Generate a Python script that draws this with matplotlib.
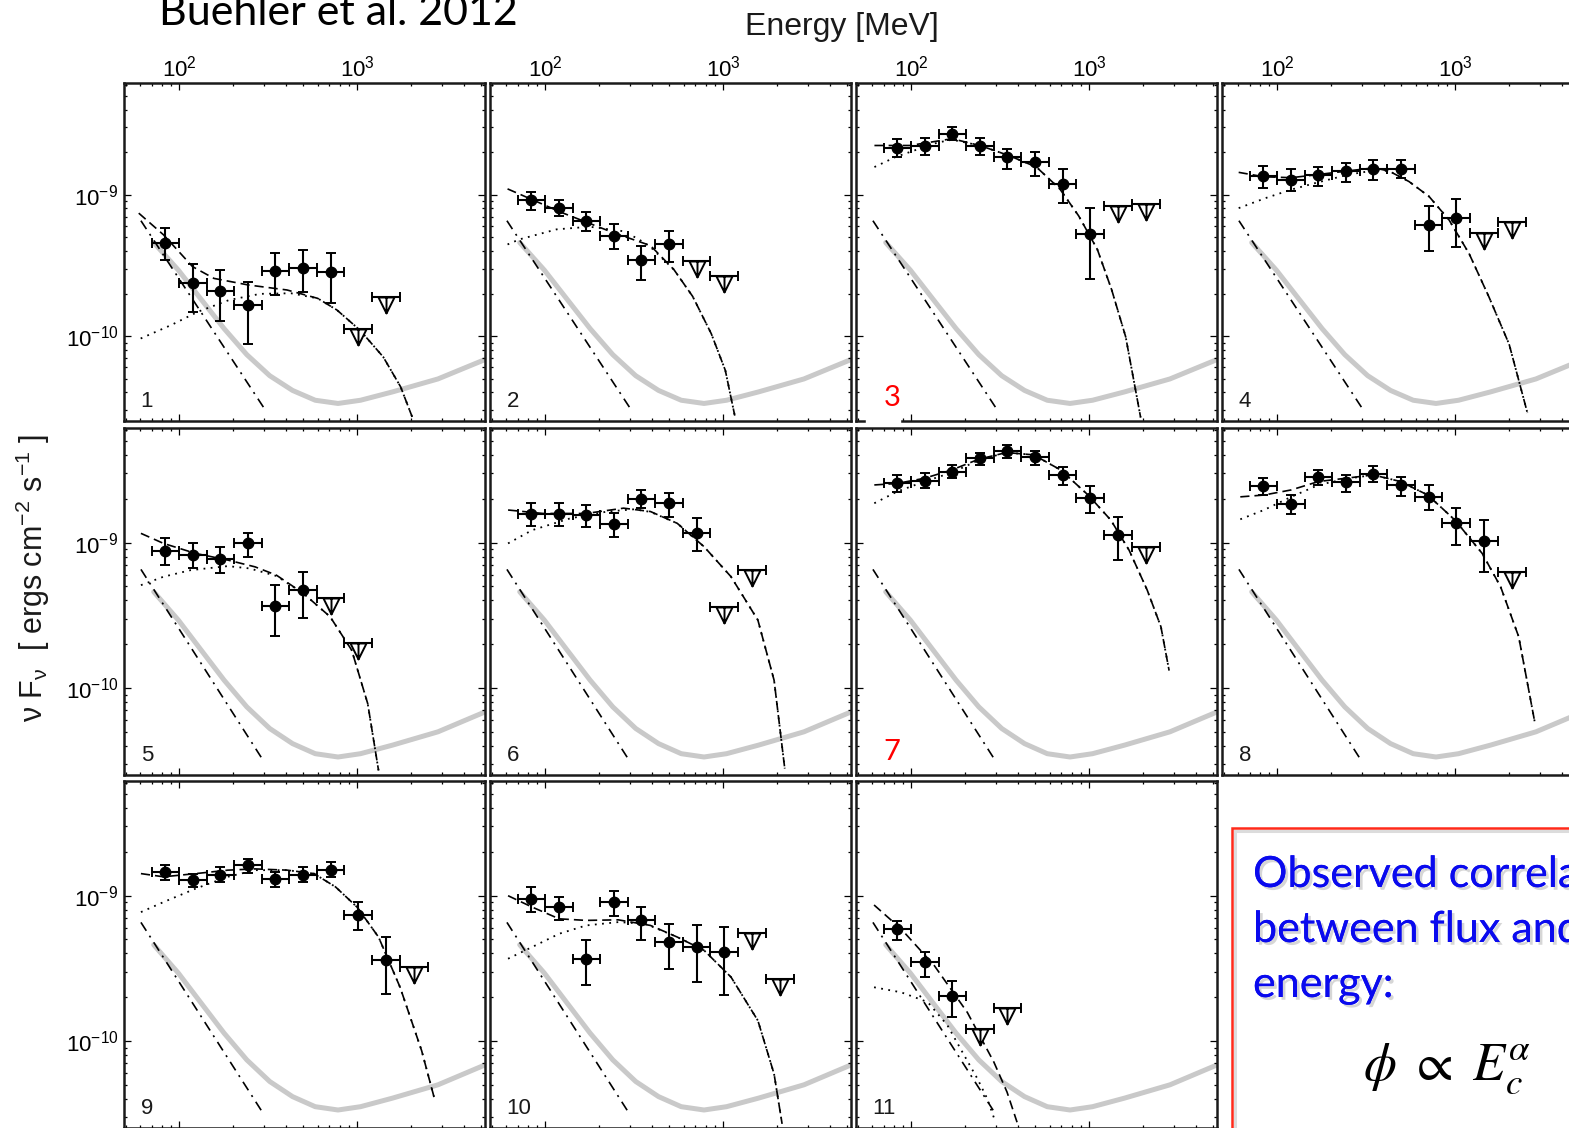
# Time-resolved LAT spectra (11 intervals), nuFnu vs energy, with model components

import numpy as np
import matplotlib
matplotlib.use("Agg")
import matplotlib.pyplot as plt
import matplotlib.patheffects as pe
from matplotlib.path import Path
from matplotlib.patches import Rectangle
from matplotlib.ticker import NullFormatter

plt.rcParams["font.family"] = ["Liberation Sans", "DejaVu Sans"]
plt.rcParams["mathtext.fontset"] = "custom"
plt.rcParams["mathtext.rm"] = "Liberation Sans"
plt.rcParams["mathtext.it"] = "Liberation Sans:italic"
plt.rcParams["mathtext.default"] = "regular"
plt.rcParams["axes.unicode_minus"] = False

W, H = 1569, 1128

# energy bins [MeV], shared by all intervals
e_edges = np.array([70, 100, 143, 204, 291, 414, 593, 850, 1220, 1755, 2510])

# nuFnu in 1e-10 erg cm^-2 s^-1, one list per interval (bins from the first one on)
flux = [
    [4.59, 2.37, 2.10, 1.66, 2.90, 3.05, 2.86],
    [9.2, 8.1, 6.5, 5.1, 3.44, 4.45],
    [21.4, 22.0, 27.0, 22.1, 18.4, 17.0, 11.9, 5.25],
    [13.5, 12.8, 13.7, 14.7, 15.2, 15.2, 6.1, 6.9],
    [8.77, 8.2, 7.67, 9.9, 3.68, 4.72],
    [15.8, 15.8, 15.5, 13.5, 19.9, 18.7, 11.7],
    [25.6, 26.8, 30.9, 38.2, 42.5, 38.8, 29.3, 20.2, 11.3],
    [24.6, 18.5, 28.2, 26.0, 29.8, 25.0, 20.8, 13.6, 10.3],
    [14.6, 12.8, 14.0, 16.2, 13.1, 14.0, 15.1, 7.32, 3.62],
    [9.54, 8.35, 3.68, 9.04, 6.76, 4.79, 4.42, 4.08],
    [5.9, 3.48, 2.03],
]
flux_hi = [
    [5.8, 3.22, 2.94, 2.43, 3.85, 4.07, 3.90],
    [10.5, 9.2, 7.5, 6.2, 4.37, 5.5],
    [24.7, 25.2, 30.2, 25.2, 21.1, 20.2, 15.1, 8.0],
    [15.9, 15.1, 15.7, 16.8, 17.7, 17.7, 8.3, 9.4],
    [10.7, 9.9, 9.4, 11.6, 5.1, 6.3],
    [18.7, 18.7, 18.2, 15.9, 22.9, 21.9, 14.7],
    [29.3, 30.0, 34.4, 41.8, 47.2, 43.1, 33.4, 24.6, 15.0],
    [27.8, 21.3, 31.7, 29.3, 33.8, 28.5, 25.0, 17.3, 14.3],
    [16.2, 14.2, 15.8, 18.0, 14.6, 15.8, 17.1, 9.0, 5.19],
    [11.4, 9.8, 4.92, 10.8, 8.35, 6.4, 6.24, 6.13],
    [6.73, 4.07, 2.60],
]
flux_lo = [
    [3.46, 1.49, 1.27, 0.88, 1.95, 2.06, 1.71],
    [7.8, 7.1, 5.5, 4.1, 2.5, 3.33],
    [18.5, 19.0, 24.3, 19.0, 15.2, 13.6, 8.7, 2.53],
    [11.2, 10.6, 11.5, 12.4, 12.8, 13.1, 4.0, 4.3],
    [7.0, 6.65, 6.2, 8.0, 2.27, 3.05],
    [13.0, 13.1, 12.9, 11.0, 17.3, 15.1, 8.8],
    [22.5, 23.7, 27.8, 34.4, 38.2, 34.4, 25.0, 16.1, 7.6],
    [21.3, 15.8, 25.0, 22.5, 26.0, 21.0, 16.8, 9.6, 6.3],
    [12.8, 11.5, 12.4, 14.3, 11.5, 12.4, 13.5, 5.77, 2.11],
    [7.7, 6.76, 2.41, 7.3, 4.98, 3.14, 2.54, 2.06],
    [4.98, 2.74, 1.46],
]
# upper limits in the bins right after the last detection
upper = [
    [1.13, 1.90],
    [3.39, 2.65],
    [8.35, 8.58],
    [5.33, 6.45],
    [4.13, 2.04],
    [3.62, 6.47],
    [9.4],
    [6.31],
    [3.22],
    [5.56, 2.68],
    [1.21, 1.68],
]

# total model (dashed)
model_e = [
    [59.3, 81.8, 119, 157, 245, 404, 601, 771, 1040, 1403, 1758, 2042],
    [61.5, 124, 241, 391, 530, 675, 859, 1030, 1164],
    [62.2, 98.2, 170, 243, 352, 506, 685, 875, 1114, 1340, 1607, 1950],
    [60.8, 84.1, 120, 171, 245, 352, 426, 551, 714, 925, 1199, 1552, 2014, 2553],
    [61.0, 81.7, 124, 188, 267, 352, 499, 706, 933, 1148, 1321],
    [61.9, 97.3, 170, 276, 391, 553, 783, 1109, 1570, 1936, 2223],
    [62.1, 83.4, 119, 169, 240, 343, 488, 693, 989, 1327, 1679, 2123, 2535, 2818],
    [62.1, 84.3, 120, 171, 243, 347, 493, 703, 1000, 1422, 1803, 2280, 2805],
    [61.0, 81.7, 124, 188, 267, 405, 573, 757, 1000, 1321, 1746, 2307, 2742],
    [61.9, 84.5, 120, 170, 258, 391, 553, 783, 1109, 1570, 1936, 2148],
    [61.9, 87.9, 135, 207, 292, 346, 394],
]
model_f = [
    [7.41, 5.20, 3.10, 2.56, 2.30, 2.12, 1.85, 1.53, 1.10, 0.713, 0.438, 0.268],
    [11.0, 7.48, 5.40, 4.37, 2.95, 1.91, 1.04, 0.573, 0.274],
    [22.3, 22.3, 24.9, 22.3, 19.0, 15.7, 11.0, 7.08, 4.10, 2.13, 0.989, 0.266],
    [14.4, 13.4, 13.2, 13.9, 14.7, 15.5, 14.7, 12.4, 9.73, 6.64, 3.84, 1.89, 0.877, 0.286],
    [11.6, 9.89, 8.43, 7.59, 6.82, 5.98, 4.48, 3.09, 1.82, 0.780, 0.270],
    [16.8, 15.9, 15.9, 17.3, 16.4, 13.6, 9.38, 5.83, 2.93, 1.13, 0.278],
    [25.0, 25.6, 27.8, 31.7, 37.6, 41.8, 40.3, 31.7, 21.3, 14.3, 8.89, 4.72, 2.64, 1.32],
    [20.7, 21.3, 23.1, 26.4, 27.8, 29.3, 26.4, 21.3, 14.3, 8.43, 4.98, 2.25, 0.583],
    [14.2, 13.5, 14.2, 15.0, 15.3, 15.0, 14.2, 11.5, 8.35, 5.19, 2.34, 0.857, 0.388],
    [10.0, 8.35, 6.93, 6.76, 6.82, 6.24, 5.19, 4.20, 2.75, 1.38, 0.592, 0.268],
    [8.63, 5.90, 3.30, 1.57, 0.713, 0.444, 0.275],
]

# cutoff component (dotted)
cut_e = [
    [60.8, 90.6, 128, 191, 285, 425, 601, 771, 1040, 1403, 1758, 2042],
    [61.5, 71.6, 116, 178, 272, 331, 391, 530, 675, 859, 1030, 1164],
    [62.2, 81.8, 118, 141, 170, 243, 352, 506, 685, 875, 1114, 1340, 1607, 1950],
    [60.8, 85.9, 121, 164, 253, 357, 426, 551, 714, 925, 1199, 1552, 2014, 2553],
    [61.0, 81.7, 116, 188, 249, 352, 499, 706, 933, 1148, 1321],
    [61.9, 84.5, 138, 224, 317, 391, 553, 783, 1109, 1570, 1936, 2223],
    [62.1, 83.4, 119, 169, 240, 343, 488, 693, 989, 1327, 1679, 2123, 2535, 2818],
    [62.1, 84.3, 120, 171, 243, 347, 493, 703, 1000, 1422, 1803, 2280, 2805],
    [61.0, 81.7, 124, 188, 267, 405, 573, 757, 1000, 1321, 1746, 2307, 2742],
    [61.9, 84.5, 120, 170, 258, 365, 553, 783, 1109, 1570, 1936, 2148],
    [61.9, 87.9, 124, 160, 199, 236, 268, 298],
]
cut_f = [
    [0.962, 1.20, 1.49, 1.80, 1.99, 2.01, 1.85, 1.53, 1.10, 0.713, 0.438, 0.268],
    [4.45, 4.83, 5.69, 5.94, 5.53, 4.90, 4.27, 2.95, 1.91, 1.04, 0.573, 0.274],
    [15.7, 18.5, 21.7, 23.4, 24.5, 22.3, 19.0, 15.7, 11.0, 7.08, 4.10, 2.13, 0.989, 0.266],
    [8.04, 9.46, 10.9, 12.1, 13.9, 14.9, 14.7, 12.4, 9.73, 6.64, 3.84, 1.89, 0.877, 0.286],
    [5.10, 5.83, 6.47, 6.90, 6.65, 5.90, 4.48, 3.09, 1.82, 0.780, 0.270],
    [9.89, 12.2, 14.7, 16.4, 17.0, 16.3, 13.6, 9.38, 5.83, 2.93, 1.13, 0.278],
    [18.7, 22.5, 26.4, 30.4, 37.0, 41.8, 40.3, 31.7, 21.3, 14.3, 8.89, 4.72, 2.64, 1.32],
    [14.5, 16.8, 20.7, 25.0, 27.5, 29.3, 26.4, 21.3, 14.3, 8.43, 4.98, 2.25, 0.583],
    [7.71, 9.04, 11.2, 13.5, 15.0, 15.0, 14.2, 11.5, 8.35, 5.19, 2.34, 0.857, 0.388],
    [3.68, 4.43, 5.47, 6.24, 6.58, 6.41, 5.19, 4.20, 2.75, 1.38, 0.592, 0.268],
    [2.34, 2.16, 1.85, 1.28, 0.793, 0.548, 0.399, 0.275],
]

# extra power-law component (dash-dot), same in every interval
pl_e = [61, 300]
pl_f = [6.55, 0.31]

# grey reference curve
sens_e = [72, 99, 133, 179, 240, 323, 434, 582, 782, 1047, 1581, 2851, 5200]
sens_f = [4.59, 2.93, 1.82, 1.13, 0.74, 0.525, 0.413, 0.352, 0.334, 0.352, 0.403, 0.498, 0.68]

highlight = [3, 7]

col_left = [124, 490, 856, 1222]
row_top = [83, 428, 781]
row_h = [338, 347, 347]
panel_w = 361

# open triangle hanging below the upper-limit bar, with a stem
ul_marker = Path(
    [(-0.5, 0), (0.5, 0), (0, -1), (-0.5, 0), (0, 0), (0, -1)],
    [Path.MOVETO, Path.LINETO, Path.LINETO, Path.CLOSEPOLY, Path.MOVETO, Path.LINETO],
)

centers = np.sqrt(e_edges[:-1] * e_edges[1:])
scale = 1e-10

fig = plt.figure(figsize=(W / 100, H / 100), dpi=100)

for i in range(len(flux)):
    r, c = divmod(i, 4)
    ax = fig.add_axes([col_left[c] / W, 1 - (row_top[r] + row_h[r]) / H,
                       panel_w / W, row_h[r] / H])
    ax.set_xscale("log")
    ax.set_yscale("log")
    ax.set_xlim(49, 5240)
    ax.set_ylim(2.51e-11, 6.17e-9)

    ax.plot(sens_e, np.array(sens_f) * scale, color="#c9c9c9", lw=3.6,
            solid_capstyle="round", zorder=1)
    ax.plot(pl_e, np.array(pl_f) * scale, color="k", lw=1.2,
            ls=(0, (6, 3.5, 1.2, 3.5)), zorder=2)
    ax.plot(cut_e[i], np.array(cut_f[i]) * scale, color="k", lw=1.3,
            ls=(0, (1, 3)), zorder=2)
    ax.plot(model_e[i], np.array(model_f[i]) * scale, color="k", lw=1.2,
            ls=(0, (5.5, 3)), zorder=2)

    n = len(flux[i])
    e = centers[:n]
    f = np.array(flux[i]) * scale
    hi = np.array(flux_hi[i]) * scale
    lo = np.array(flux_lo[i]) * scale
    ax.errorbar(e, f, xerr=[e - e_edges[:n], e_edges[1:n + 1] - e],
                yerr=[f - lo, hi - f], fmt="o", color="k", ms=7.5,
                elinewidth=1.5, capsize=3.5, capthick=1.4, zorder=3)

    m = len(upper[i])
    eu = centers[n:n + m]
    fu = np.array(upper[i]) * scale
    ax.errorbar(eu, fu, xerr=[eu - e_edges[n:n + m], e_edges[n + 1:n + m + 1] - eu],
                fmt="none", ecolor="k", elinewidth=1.5, capsize=3.5, capthick=1.4,
                zorder=3)
    ax.plot(eu, fu, ls="none", marker=ul_marker, ms=23, mfc="white",
            mec="k", mew=1.4, zorder=3)

    for side in ax.spines.values():
        side.set_linewidth(1.8)
        side.set_color("#1a1a1a")
    ax.tick_params(which="both", direction="in", top=True, right=True,
                   labelsize=16, width=0.9)
    ax.tick_params(which="major", length=5, pad=3)
    ax.tick_params(which="minor", length=2.5)
    ax.tick_params(axis="x", labelbottom=False, labeltop=(r == 0), pad=1)
    ax.tick_params(axis="y", labelleft=(c == 0), pad=4)
    ax.xaxis.set_minor_formatter(NullFormatter())
    ax.yaxis.set_minor_formatter(NullFormatter())

    if i + 1 in highlight:
        ax.annotate(str(i + 1), xy=(0, 0), xycoords="axes fraction",
                    xytext=(20, 11), textcoords="offset points",
                    color="red", family="Lato", fontsize=21, va="baseline")
    else:
        ax.annotate(str(i + 1), xy=(0, 0), xycoords="axes fraction",
                    xytext=(12, 10), textcoords="offset points",
                    color="#1a1a1a", fontsize=16, va="baseline")

# blank patch over the frame under the relabelled interval 3
fig.add_artist(Rectangle((866 / W, 1 - 424 / H), 34 / W, 8 / H,
                         transform=fig.transFigure, color="white", zorder=10))

fig.text(159 / W, 1 - 25 / H, "Buehler et al. 2012", family="Lato",
         fontsize=31, ha="left", va="baseline")
fig.text(842 / W, 1 - 35 / H, "Energy [MeV]", fontsize=23,
         ha="center", va="baseline", color="#1a1a1a")
fig.text(33 / W, 1 - 578 / H, r"$\nu$ F$_\nu$  [ ergs cm$^{-2}$ s$^{-1}$ ]",
         rotation=90, fontsize=22, ha="center", va="center", color="#1a1a1a")

# note box
fig.add_artist(Rectangle((1235 / W, -0.1), 0.3, 1.1 - 831 / H,
                         transform=fig.transFigure, fill=False,
                         edgecolor="#dcdcdc", lw=2.2, zorder=5))
fig.add_artist(Rectangle((1232 / W, -0.1), 0.3, 1.1 - 828 / H,
                         transform=fig.transFigure, fill=False,
                         edgecolor="#ff2a1a", lw=1.8, zorder=6))

shadow = [pe.withSimplePatchShadow(offset=(2, -2), shadow_rgbFace="0.55", alpha=0.35),
          pe.Normal()]
note = ["Observed correlation", "between flux and cutoff", "energy:"]
for k, line in enumerate(note):
    fig.text(1253 / W, 1 - (887 + 55 * k) / H, line, family="Lato",
             fontsize=31, color="#0a0aee", ha="left", va="baseline",
             path_effects=shadow)
fig.text(1447 / W, 1 - 1080 / H,
         r"$\mathit{\phi}\ \mathrm{\propto}\ \mathit{E}_{\mathit{c}}^{\mathit{\alpha}}$",
         math_fontfamily="stix", fontsize=38, ha="center", va="baseline")

fig.savefig("out.png", dpi=100)
